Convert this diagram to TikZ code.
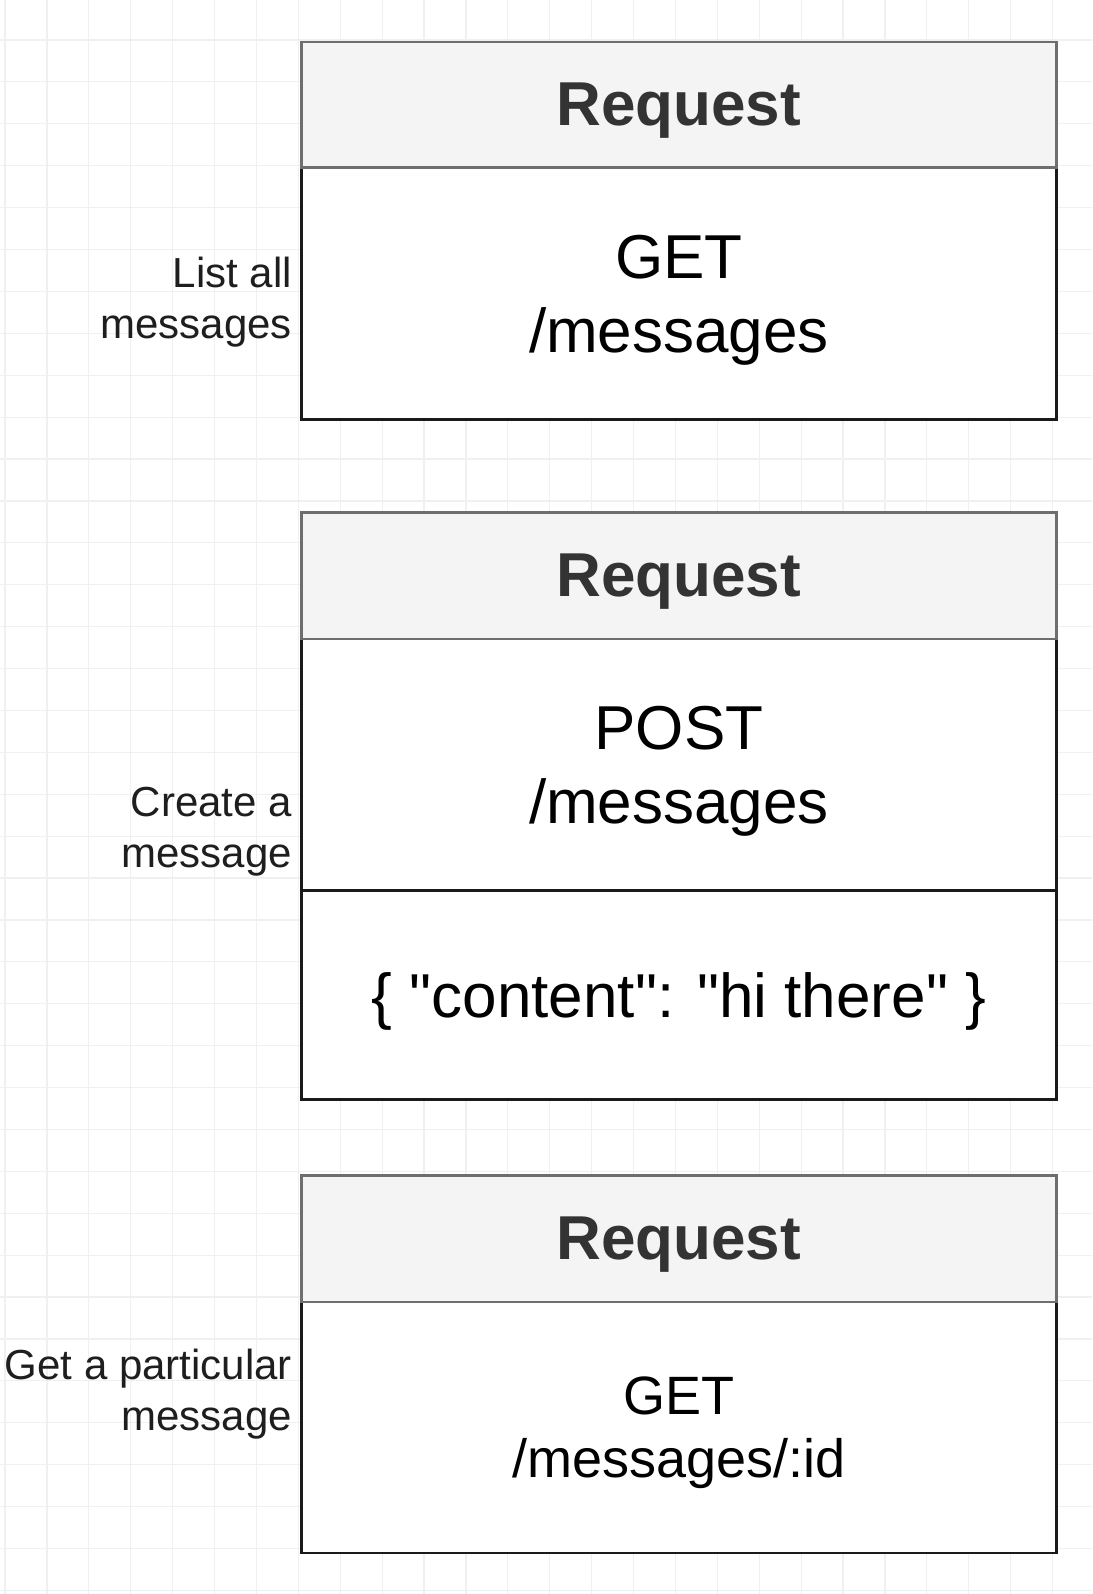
\documentclass[tikz,border=0pt]{standalone}
\usepackage{fontspec}
\setmainfont{Liberation Sans}
\newfontfamily\jsonfont{Liberation Sans}[Ligatures=TeXOff]
\definecolor{hdrline}{HTML}{6E6E6E}
\definecolor{hdrfill}{HTML}{F4F4F4}
\definecolor{hdrtext}{HTML}{333333}
\definecolor{bodyline}{HTML}{1A1A1A}
\definecolor{gridc}{HTML}{F0F0F0}
\definecolor{lbltext}{HTML}{1E1E1E}
\begin{document}
\begin{tikzpicture}[x=1pt,y=-1pt,
  hdr/.style={draw=hdrline, fill=hdrfill, line width=2.6pt, minimum width=755pt, anchor=north west, inner sep=0pt, text depth=0pt, text=hdrtext, font=\fontsize{62}{74}\selectfont\bfseries},
  bdy/.style={draw=bodyline, fill=white, line width=2.8pt, minimum width=755pt, anchor=north west, inner sep=0pt, text depth=0pt, align=center, font=\fontsize{62}{74}\selectfont},
  lbl/.style={anchor=east, align=right, inner sep=0pt, text=lbltext, font=\fontsize{42}{51}\selectfont},
  gridline/.style={draw=gridc, line width=1.2pt}]
\useasboundingbox (0,0) rectangle (1092,1594);
\fill[white] (0,0) rectangle (1092,1594);
\foreach \k in {0,...,25} \draw[gridline] ({5+41.9*\k},0) -- ({5+41.9*\k},1594);
\foreach \k in {0,...,37} \draw[gridline] (0,{40+41.9*\k}) -- (1092,{40+41.9*\k});

% Box 1
\node[bdy, minimum height=252pt] (b1) at (300,166) {GET\\/messages};
\node[hdr, minimum height=125.3pt] (h1) at (300,40.7) {Request};
% Box 2
\node[bdy, minimum height=251.5pt] (b2a) at (300,637.5) {POST\\/messages};
\node[bdy, minimum height=209pt] (b2b) at (300,889) {\jsonfont\{ "content": "hi there" \}};
\node[hdr, minimum height=126.5pt] (h2) at (300,511) {Request};
% Box 3
\node[bdy, minimum height=251pt, font=\fontsize{54}{63}\selectfont] (b3) at (300,1300.5) {GET\\/messages/:id};
\node[hdr, minimum height=126.5pt] (h3) at (300,1174) {Request};

% Labels
\node[lbl] (l1) at (292,302) {List all\\messages};
\node[lbl] (l2) at (292,832) {Create a\\message};
\node[lbl] (l3) at (292,1394) {Get a particular\\message};
\end{tikzpicture}
\end{document}
